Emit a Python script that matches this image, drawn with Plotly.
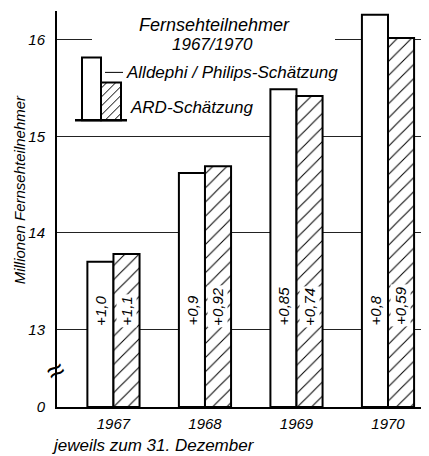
import plotly.graph_objects as go

# ---- data ----
years = ["1967", "1968", "1969", "1970"]
alldephi = [13.70, 14.62, 15.49, 16.26]
ard = [13.78, 14.69, 15.42, 16.02]
alldephi_growth = ["+1,0", "+0,9", "+0,85", "+0,8"]
ard_growth = ["+1,1", "+0,92", "+0,74", "+0,59"]
y_tickvals = [12.195, 13, 14, 15, 16]
y_ticktext = ["0", "13", "14", "15", "16"]

# page body has an 8px margin: shrink the figure so it fills the window
OFF = 8
WIN_W, WIN_H = 429, 456
W, H = WIN_W - OFF, WIN_H - OFF
# plot area in window pixels
PX_L, PX_R, PX_T, PX_B = 57, 429, 10.6, 406.7
L, R, T, B = PX_L - OFF, WIN_W - PX_R, PX_T - OFF, WIN_H - PX_B
PW, PH = PX_R - PX_L, PX_B - PX_T

def xp(px):
    return (px - PX_L) / PW

def yp(py):
    return (PX_B - py) / PH

TXT = "Liberation Sans, Arial, sans-serif"

fig = go.Figure()
fig.add_bar(x=list(range(len(years))), y=[v - y_tickvals[0] for v in alldephi], base=y_tickvals[0],
            name="Alldephi / Philips-Schätzung",
            marker=dict(color="white", line=dict(color="black", width=2)))
fig.add_bar(x=list(range(len(years))), y=[v - y_tickvals[0] for v in ard], base=y_tickvals[0],
            name="ARD-Schätzung",
            marker=dict(color="white", line=dict(color="black", width=2),
                        pattern=dict(shape="/", fgcolor="black", bgcolor="white", size=10,
                                     solidity=0.1, fgopacity=1)))

annotations = []
offset = 0.142
for i in range(len(years)):
    for dx, t in ((-offset, alldephi_growth[i]), (offset, ard_growth[i])):
        annotations.append(dict(x=i + dx, y=13.02, xref="x", yref="y", text=t, showarrow=False,
                                textangle=-90, xanchor="center", yanchor="bottom",
                                bgcolor="white", borderpad=1,
                                font=dict(family=TXT, size=15, style="italic", color="black")))

annotations += [
    dict(x=xp(214), y=yp(25), xref="paper", yref="paper", text="Fernsehteilnehmer", showarrow=False,
         xanchor="center", yanchor="middle",
         font=dict(family=TXT, size=18, style="italic", color="black")),
    dict(x=xp(212), y=yp(44), xref="paper", yref="paper", text="1967/1970", showarrow=False,
         xanchor="center", yanchor="middle",
         font=dict(family=TXT, size=17, style="italic", color="black")),
    dict(x=xp(124), y=yp(72), xref="paper", yref="paper", text="Alldephi / Philips-Schätzung",
         showarrow=False, xanchor="left", yanchor="middle",
         font=dict(family=TXT, size=17, style="italic", color="black")),
    dict(x=xp(128), y=yp(107), xref="paper", yref="paper", text="ARD-Schätzung",
         showarrow=False, xanchor="left", yanchor="middle",
         font=dict(family=TXT, size=17, style="italic", color="black")),
    dict(x=xp(19), y=yp(190), xref="paper", yref="paper", text="Millionen Fernsehteilnehmer",
         showarrow=False, textangle=-90, xanchor="center", yanchor="middle",
         font=dict(family=TXT, size=15, style="italic", color="black")),
    dict(x=xp(50), y=yp(445), xref="paper", yref="paper", text="jeweils zum 31. Dezember",
         showarrow=False, xanchor="left", yanchor="middle",
         font=dict(family=TXT, size=17, style="italic", color="black")),
    dict(x=xp(55), y=yp(370), xref="paper", yref="paper", text="≈",
         showarrow=False, textangle=-30, xanchor="center", yanchor="middle",
         font=dict(family=TXT, size=30, color="black")),
]

shapes = [
    dict(type="rect", xref="paper", yref="paper", x0=xp(92), x1=xp(335), y0=yp(20), y1=yp(60),
         fillcolor="white", line=dict(width=0), layer="above"),
    dict(type="rect", xref="paper", yref="paper", x0=xp(82), x1=xp(101), y0=yp(57), y1=yp(120),
         fillcolor="white", line=dict(color="black", width=2), layer="above"),
    dict(type="rect", xref="paper", yref="paper", x0=xp(101), x1=xp(121), y0=yp(82), y1=yp(120),
         fillcolor="white", line=dict(color="black", width=2), layer="above"),
    dict(type="line", xref="paper", yref="paper", x0=xp(75), x1=xp(127), y0=yp(120), y1=yp(120),
         line=dict(color="black", width=2.5), layer="above"),
    dict(type="line", xref="paper", yref="paper", x0=xp(105), x1=xp(123), y0=yp(72), y1=yp(72),
         line=dict(color="black", width=1), layer="above"),
]
hx0, hx1, hy0, hy1 = 101, 121, 82, 120
c = hx0 + hy0 + 6
while c < hx1 + hy1:
    xa = max(hx0, c - hy1)
    xb = min(hx1, c - hy0)
    if xb > xa:
        shapes.append(dict(type="line", xref="paper", yref="paper",
                           x0=xp(xa), y0=yp(c - xa), x1=xp(xb), y1=yp(c - xb),
                           line=dict(color="black", width=1), layer="above"))
    c += 9

fig.update_layout(
    width=W, height=H,
    margin=dict(l=L, r=R, t=T, b=B, pad=0),
    paper_bgcolor="white", plot_bgcolor="white",
    barmode="group", bargap=0.43, bargroupgap=0,
    showlegend=False,
    annotations=annotations, shapes=shapes,
    xaxis=dict(range=[-0.617, 3.448], tickvals=list(range(len(years))), ticktext=years,
               showgrid=False, zeroline=False, showline=True, linecolor="black", linewidth=2,
               ticks="", ticklabelstandoff=2,
               tickfont=dict(family=TXT, size=15, style="italic", color="black")),
    yaxis=dict(range=[12.195, 16.30], tickvals=y_tickvals, ticktext=y_ticktext,
               showgrid=True, gridcolor="#222", gridwidth=1, zeroline=False,
               showline=True, linecolor="black", linewidth=2,
               ticks="", ticklabelstandoff=7,
               tickfont=dict(family=TXT, size=15, style="italic", color="black")),
)

fig.write_html("out.html")
